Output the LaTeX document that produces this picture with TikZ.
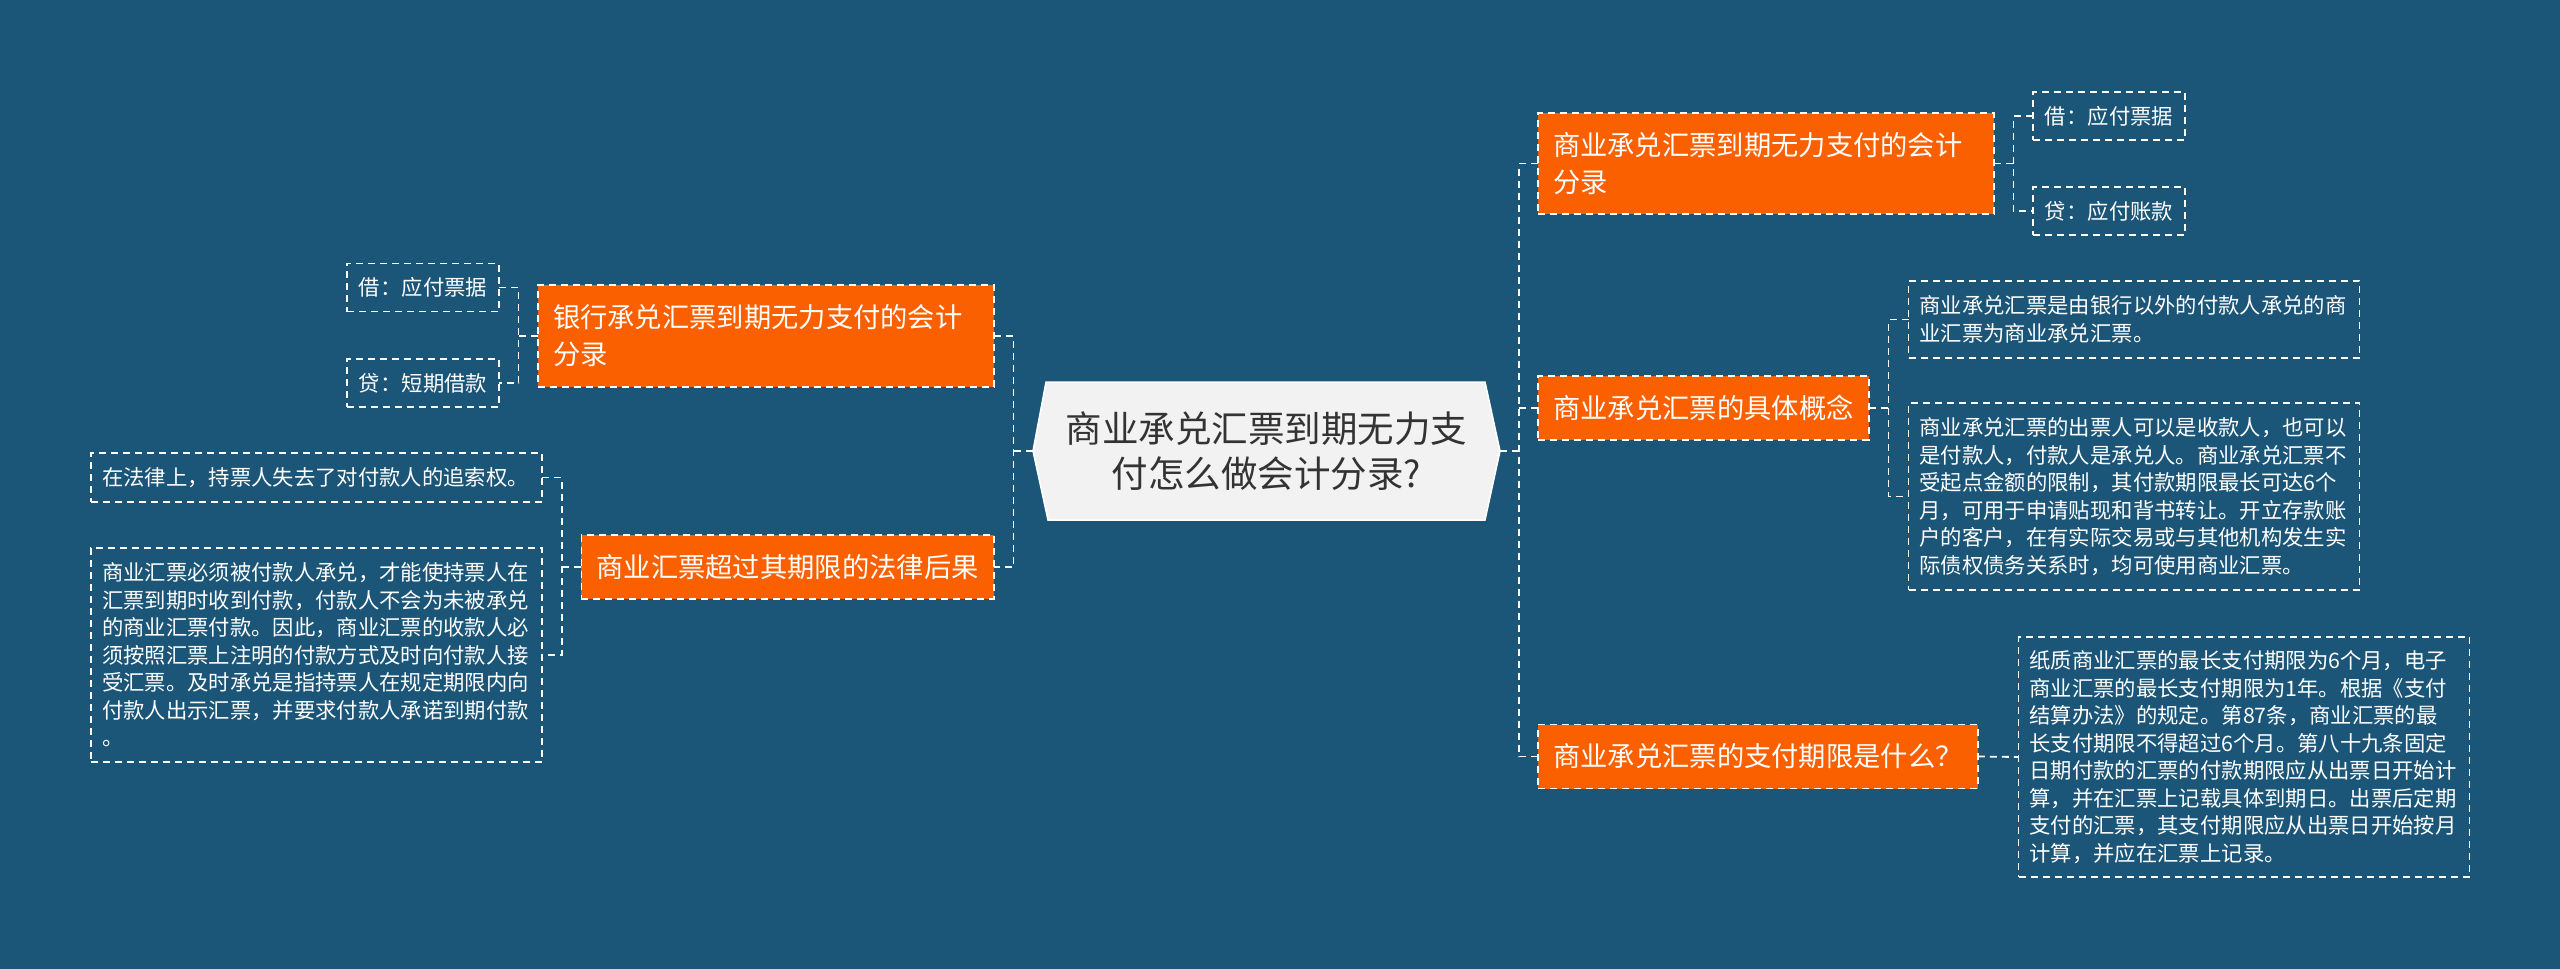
\documentclass[tikz,border=0pt]{standalone}
\usepackage{fontspec}
\newfontfamily\cjk{Noto Sans CJK SC}
\usetikzlibrary{backgrounds,calc}

\definecolor{bgblue}{RGB}{27,85,120}
\definecolor{topicorange}{RGB}{250,96,0}
\definecolor{rootgray}{RGB}{242,242,242}
\definecolor{roottext}{RGB}{51,51,51}

\begin{document}
\begin{tikzpicture}[x=1pt, y=-1pt,
  every node/.style={inner sep=0pt, outer sep=0pt},
  dline/.style={draw=white, line width=1.8pt, dash pattern=on 7pt off 5pt},
  conn/.style={dline},
  root/.style={font=\cjk\fontsize{36.5}{45}\selectfont, text=roottext,
    align=center, minimum width=467pt, minimum height=138pt},
  topic/.style={dline, fill=topicorange, text=white,
    font=\cjk\fontsize{27.3}{37}\selectfont, align=left,
    inner xsep=15pt, minimum height=64pt},
  leaf/.style={dline, text=white, font=\cjk\fontsize{21.35}{27.5}\selectfont,
    align=left, inner xsep=12pt, minimum height=48pt},
  wideleaf/.style={leaf, inner xsep=11pt, text width=429pt}]

  \useasboundingbox (0,0) rectangle (2560,969);

  % Root
  \node[root] (c) at (1266.5,451) {商业承兑汇票到期无力支\\付怎么做会计分录?};

  % Left topics
  \node[topic, text width=426pt, minimum height=102pt] (L1) at (766,336)
    {银行承兑汇票到期无力支付的会计\\分录};
  \node[leaf] (L1a) at (423,287.5) {借：应付票据};
  \node[leaf] (L1b) at (423,383) {贷：短期借款};

  \node[topic] (L2) at (787.5,567) {商业汇票超过其期限的法律后果};
  \node[wideleaf, minimum height=49pt] (L2a) at (316.5,477.5)
    {在法律上，持票人失去了对付款人的追索权。};
  \node[wideleaf, minimum height=214pt] (L2b) at (316.5,655)
    {商业汇票必须被付款人承兑，才能使持票人在\\汇票到期时收到付款，付款人不会为未被承兑\\的商业汇票付款。因此，商业汇票的收款人必\\须按照汇票上注明的付款方式及时向付款人接\\受汇票。及时承兑是指持票人在规定期限内向\\付款人出示汇票，并要求付款人承诺到期付款\\。};

  % Right topics
  \node[topic, text width=426pt, minimum height=101pt] (R1) at (1766,163.5)
    {商业承兑汇票到期无力支付的会计\\分录};
  \node[leaf] (R1a) at (2109,116) {借：应付票据};
  \node[leaf] (R1b) at (2109,211) {贷：应付账款};

  \node[topic] (R2) at (1703.5,408) {商业承兑汇票的具体概念};
  \node[wideleaf, minimum height=77pt] (R2a) at (2134,319.5)
    {商业承兑汇票是由银行以外的付款人承兑的商\\业汇票为商业承兑汇票。};
  \node[wideleaf, minimum height=187pt] (R2b) at (2134,496.5)
    {商业承兑汇票的出票人可以是收款人，也可以\\是付款人，付款人是承兑人。商业承兑汇票不\\受起点金额的限制，其付款期限最长可达6个\\月，可用于申请贴现和背书转让。开立存款账\\户的客户，在有实际交易或与其他机构发生实\\际债权债务关系时，均可使用商业汇票。};

  \node[topic] (R3) at (1758,756.5) {商业承兑汇票的支付期限是什么？};
  \node[wideleaf, minimum height=240pt] (R3a) at (2244,757)
    {纸质商业汇票的最长支付期限为6个月，电子\\商业汇票的最长支付期限为1年。根据《支付\\结算办法》的规定。第87条，商业汇票的最\\长支付期限不得超过6个月。第八十九条固定\\日期付款的汇票的付款期限应从出票日开始计\\算，并在汇票上记载具体到期日。出票后定期\\支付的汇票，其支付期限应从出票日开始按月\\计算，并应在汇票上记录。};

  % Trunks
  \coordinate (lt) at ($(c.west)!.5!(L1.east)$);
  \coordinate (rt) at ($(c.east)!.5!(R1.west)$);
  \coordinate (l1t) at ($(L1a.east)!.5!(L1.west)$);
  \coordinate (l2t) at ($(L2a.east)!.5!(L2.west)$);
  \coordinate (r1t) at ($(R1.east)!.5!(R1a.west)$);
  \coordinate (r2t) at ($(R2.east)!.5!(R2a.west)$);

  % Left connectors
  \draw[conn] (c.west) -- (lt |- c.west);
  \draw[conn] (L1.east) -- (lt |- L1.east) -- (lt |- L2.east) -- (L2.east);
  \draw[conn] (L1.west) -- (l1t |- L1.west);
  \draw[conn] (L1a.east) -- (l1t |- L1a.east) -- (l1t |- L1b.east) -- (L1b.east);
  \draw[conn] (L2.west) -- (l2t |- L2.west);
  \draw[conn] (L2a.east) -- (l2t |- L2a.east) -- (l2t |- L2b.east) -- (L2b.east);

  % Right connectors
  \draw[conn] (c.east) -- (rt |- c.east);
  \draw[conn] (R1.west) -- (rt |- R1.west) -- (rt |- R3.west) -- (R3.west);
  \draw[conn] (R2.west) -- (rt |- R2.west);
  \draw[conn] (R1.east) -- (r1t |- R1.east);
  \draw[conn] (R1a.west) -- (r1t |- R1a.west) -- (r1t |- R1b.west) -- (R1b.west);
  \draw[conn] (R2.east) -- (r2t |- R2.east);
  \draw[conn] (R2a.west) -- (r2t |- R2a.west) -- (r2t |- R2b.west) -- (R2b.west);
  \draw[conn] (R3.east) -- (R3a.west);

  % Background and root shape
  \begin{scope}[on background layer]
    \fill[bgblue] (0,0) rectangle (2560,969);
    \filldraw[fill=rootgray, draw=white, line width=1.5pt]
      ([xshift=13pt]c.north west) -- ([xshift=-15pt]c.north east) -- (c.east)
      -- ([xshift=-15pt]c.south east) -- ([xshift=15pt]c.south west)
      -- (c.west) -- cycle;
  \end{scope}
\end{tikzpicture}
\end{document}
